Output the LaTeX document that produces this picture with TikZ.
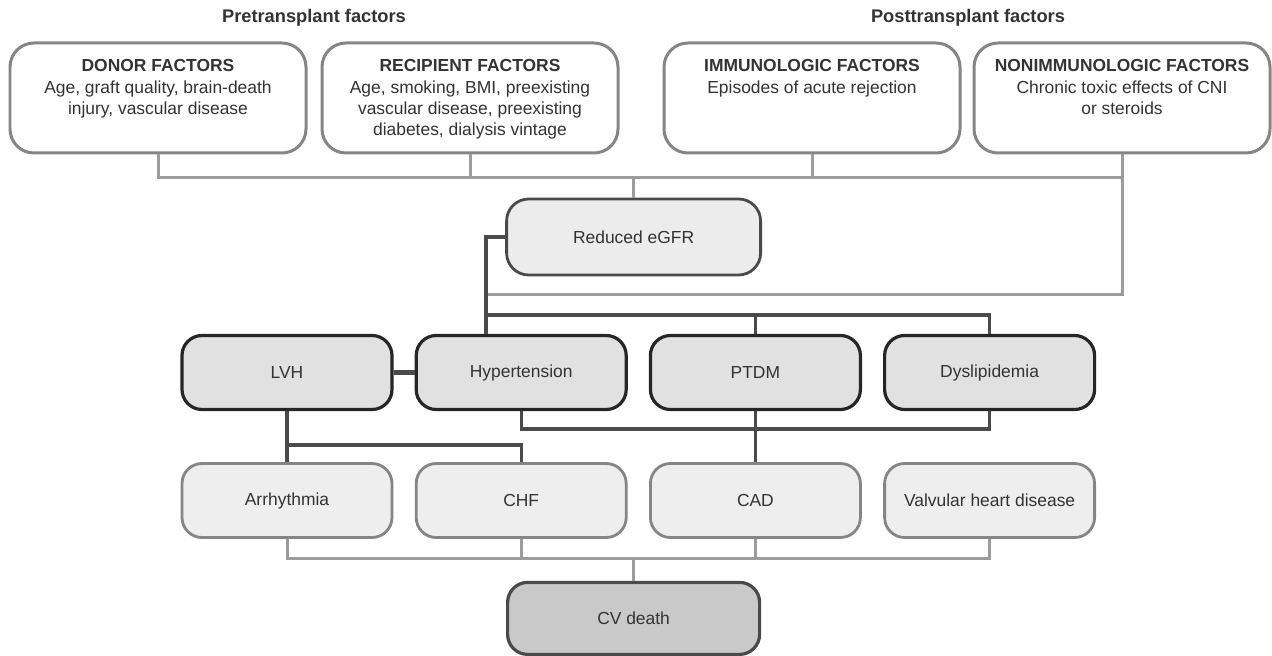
\documentclass[tikz,border=0pt]{standalone}
\usepackage{fontspec}
\setmainfont{Liberation Sans}
\usepackage{tikz}
\usetikzlibrary{positioning,calc}

\definecolor{inkgray}{HTML}{333333}
\definecolor{topedge}{HTML}{858585}
\definecolor{lightwirec}{HTML}{9C9C9C}
\definecolor{darkwirec}{HTML}{4A4A4A}
\definecolor{egfrfill}{HTML}{ECECEC}
\definecolor{riskfill}{HTML}{E1E1E1}
\definecolor{cvdfill}{HTML}{EEEEEE}
\definecolor{deathfill}{HTML}{C9C9C9}

\begin{document}
\begin{tikzpicture}[font=\fontsize{12.4}{15}\selectfont,text=inkgray]
 \coordinate (origo) at (0,0);
 \useasboundingbox (origo) rectangle (31.8,-16.4);

\tikzstyle{topbox}=[draw=topedge,line width=0.075cm,rounded corners=0.6cm,fill=white,minimum width=7.4cm,minimum height=2.75cm]
\tikzstyle{toptext}=[inner sep=0pt,align=center]
\tikzstyle{headline}=[font=\fontsize{13}{15}\selectfont\bfseries]
\tikzstyle{egfrbox}=[draw=darkwirec,line width=0.07cm,rounded corners=0.55cm,fill=egfrfill,minimum width=6.35cm,minimum height=1.9cm]
\tikzstyle{riskbox}=[draw=black!85,line width=0.08cm,rounded corners=0.5cm,fill=riskfill,minimum width=5.25cm,minimum height=1.85cm]
\tikzstyle{cvdbox}=[draw=topedge,line width=0.07cm,rounded corners=0.5cm,fill=cvdfill,minimum width=5.25cm,minimum height=1.85cm]
\tikzstyle{deathbox}=[draw=darkwirec,line width=0.08cm,rounded corners=0.5cm,fill=deathfill,minimum width=6.3cm,minimum height=1.8cm]
\tikzstyle{lightwire}=[draw=lightwirec,line width=0.075cm]
\tikzstyle{darkwire}=[draw=darkwirec,line width=0.085cm]

   % headings
   \node (pre_head) [headline] at ($ (origo) + (7.85,-0.45) $) {Pretransplant factors};
   \node (post_head) [headline] at ($ (origo) + (24.2,-0.45) $) {Posttransplant factors};

   % factor boxes
   \node (donor) [topbox] at (3.95,-2.45) {};
   \node (recip) [topbox] at (11.75,-2.45) {};
   \node (immuno) [topbox] at (20.3,-2.45) {};
   \node (nonimm) [topbox] at (28.05,-2.45) {};

   \node (donor_txt) [toptext,below=0.45cm of donor.north] {\textbf{DONOR FACTORS}\\Age, graft quality, brain-death\\injury, vascular disease};
   \node (recip_txt) [toptext,below=0.45cm of recip.north] {\textbf{RECIPIENT FACTORS}\\Age, smoking, BMI, preexisting\\vascular disease, preexisting\\diabetes, dialysis vintage};
   \node (immuno_txt) [toptext,below=0.45cm of immuno.north] {\textbf{IMMUNOLOGIC FACTORS}\\Episodes of acute rejection};
   \node (nonimm_txt) [toptext,below=0.45cm of nonimm.north] {\textbf{NONIMMUNOLOGIC FACTORS}\\Chronic toxic effects of CNI\\or steroids};

   \node (egfr) [egfrbox] at (15.84,-5.925) {Reduced eGFR};

   % risk factors
   \node (lvh) [riskbox] at (7.175,-9.3125) {LVH};
   \node (hyp) [riskbox,right=0.525cm of lvh] {Hypertension};
   \node (ptdm) [riskbox,right=0.525cm of hyp] {PTDM};
   \node (dys) [riskbox,right=0.525cm of ptdm] {Dyslipidemia};

   % cardiovascular disease
   \node (arr) [cvdbox,below=1.275cm of lvh] {Arrhythmia};
   \node (chf) [cvdbox,below=1.275cm of hyp] {CHF};
   \node (cad) [cvdbox,below=1.275cm of ptdm] {CAD};
   \node (valv) [cvdbox,below=1.275cm of dys] {Valvular heart disease};

   \node (cvdeath) [deathbox] at (15.84,-15.46) {CV death};

   % bars
   \coordinate (topbar) at (0,-4.45);
   \coordinate (postbar) at (0,-7.35);
   \coordinate (riskbar) at (0,-7.875);
   \coordinate (metabar) at (0,-10.725);
   \coordinate (lvhbar) at (0,-11.125);
   \coordinate (cvbar) at (0,-13.95);
   \coordinate (dv) at (12.15,0);

   \draw[lightwire] (donor.south) |- (nonimm.south |- topbar);
   \draw[lightwire] (nonimm.south) |- (dv |- postbar);
   \draw[lightwire] (recip.south) -- (recip.south |- topbar);
   \draw[lightwire] (immuno.south) -- (immuno.south |- topbar);
   \draw[lightwire] (egfr.north) -- (egfr.north |- topbar);

   \draw[darkwire] (egfr.west) -| (dv |- hyp.north);
   \draw[darkwire] (dv |- riskbar) -| (dys.north);
   \draw[darkwire] (ptdm.north) -- (ptdm.north |- riskbar);
   \draw[darkwire,line width=0.13cm] (lvh.east) -- (hyp.west);
   \draw[darkwire] (hyp.south) |- (dys.south |- metabar) -- (dys.south);
   \draw[darkwire] (ptdm.south) -- (cad.north);
   \draw[darkwire] (lvh.south) -- (arr.north);
   \draw[darkwire] (lvh.south |- lvhbar) -| (chf.north);

   \draw[lightwire] (arr.south) |- (valv.south |- cvbar) -- (valv.south);
   \draw[lightwire] (chf.south) -- (chf.south |- cvbar);
   \draw[lightwire] (cad.south) -- (cad.south |- cvbar);
   \draw[lightwire] (cvdeath.north) -- (cvdeath.north |- cvbar);

\end{tikzpicture}
\end{document}
